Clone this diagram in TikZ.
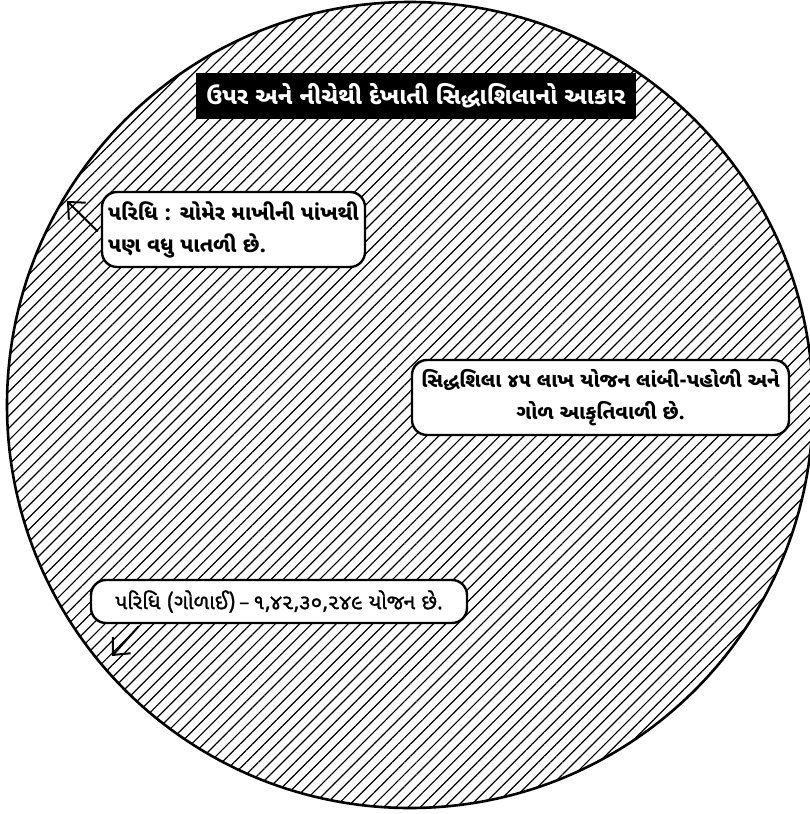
\documentclass[tikz,border=0pt]{standalone}
\usepackage{fontspec}
\newfontfamily\guj[Script=Gujarati]{Noto Sans Gujarati UI}
\newfontfamily\gujm[Script=Gujarati,FakeBold=1.2]{Noto Sans Gujarati UI}
\newfontfamily\dashfont{Noto Sans}
\usetikzlibrary{patterns.meta,arrows.meta}
\tikzset{
  box/.style={draw=black, line width=2.4pt, fill=white, rounded corners=15pt, inner sep=0pt,
    font=\guj\bfseries\fontsize{21}{32}\selectfont},
  titlebox/.style={fill=black, text=white, inner sep=0pt, minimum width=440pt, minimum height=46pt,
    font=\guj\bfseries\fontsize{23.5}{28}\selectfont},
  arr/.style={line width=2pt, -{Straight Barb[length=13pt,width=24pt,line width=2pt]}}
}
\begin{document}
\begin{tikzpicture}[x=1pt,y=-1pt]
\useasboundingbox (0,0) rectangle (810,814);
\begin{scope}
\clip (0,0) rectangle (810,814);
\fill[white] (0,0) rectangle (810,814);
\path[pattern={Lines[angle=45,distance=8.6pt,line width=1.2pt]}] (410,405) circle (403);
\draw[line width=2.6pt] (410,405) circle (403);
\end{scope}
\node[titlebox] (title) at (416,96) {ઉપર અને નીચેથી દેખાતી સિદ્ધાશિલાનો આકાર};
\node[box, minimum width=263pt, minimum height=75pt, align=left] (b1) at (233.5,229.5)
  {પરિધિ : ચોમેર માખીની પાંખથી\\પણ વધુ પાતળી છે.};
\node[box, minimum width=377pt, minimum height=75pt, align=center, font=\guj\bfseries\fontsize{20.2}{32}\selectfont] (b2) at (600.5,397.5)
  {સિદ્ધશિલા ૪૫ લાખ યોજન લાંબી-પહોળી અને\\ગોળ આકૃતિવાળી છે.};
\node[box, minimum width=376pt, minimum height=43pt, font=\gujm\fontsize{21}{26}\selectfont] (b3) at (279,601.5)
  {પરિધિ (ગોળાઈ)\,{\dashfont –}\,૧,૪૨,૩૦,૨૪૯ યોજન છે.};
\coordinate (h1) at (67,201);
\coordinate (h2) at (112,656);
\draw[arr] ([xshift=-3pt,yshift=-2pt]b1.west) -- (h1);
\draw[arr] ([xshift=49pt,yshift=-2pt]b3.south west) -- (h2);
\end{tikzpicture}
\end{document}
